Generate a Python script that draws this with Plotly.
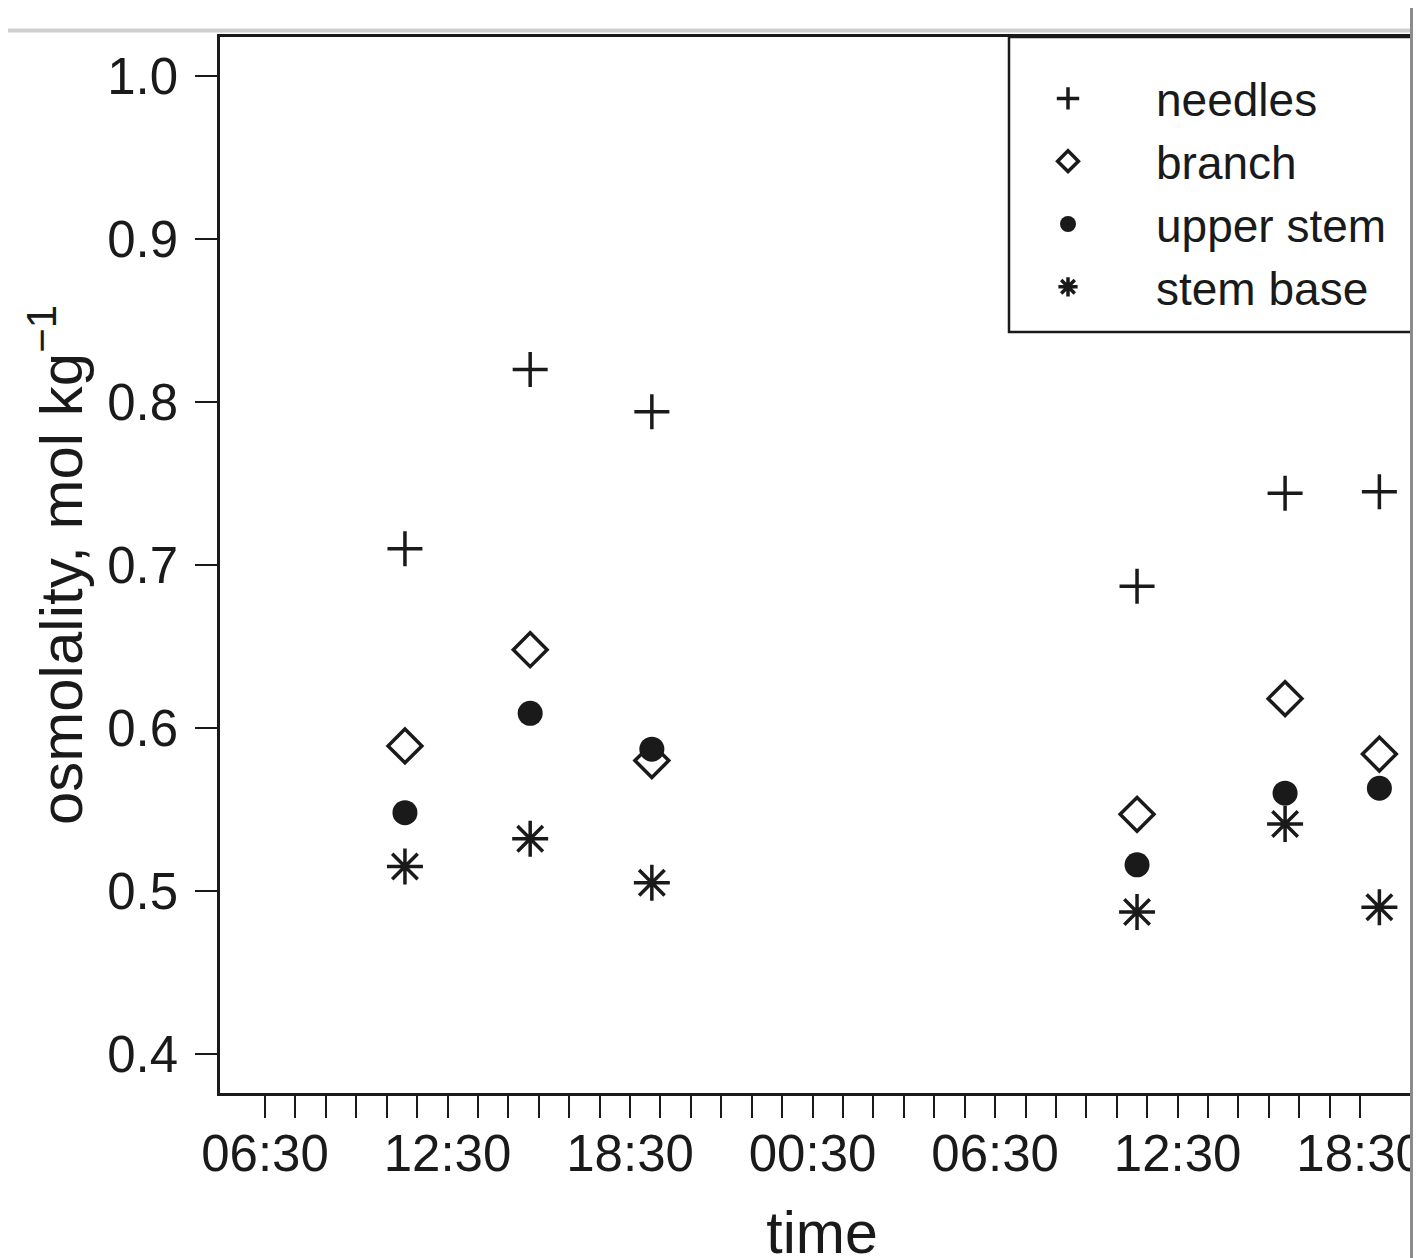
import plotly.graph_objects as go

# ---- data ----
sample_day = [1, 1, 1, 2, 2, 2]
sample_time = ["11:06", "15:13", "19:13", "11:10", "16:02", "19:08"]

needles = [0.710, 0.820, 0.794, 0.687, 0.744, 0.745]
branch = [0.589, 0.648, 0.580, 0.547, 0.618, 0.584]
upper_stem = [0.548, 0.609, 0.587, 0.516, 0.560, 0.563]
stem_base = [0.515, 0.532, 0.505, 0.487, 0.541, 0.490]

tick_labels = ["06:30", "12:30", "18:30", "00:30", "06:30", "12:30", "18:30"]
y_ticks = [0.4, 0.5, 0.6, 0.7, 0.8, 0.9, 1.0]


def to_hours(day, hhmm):
    h, m = hhmm.split(":")
    return (day - 1) * 24 + int(h) + int(m) / 60.0


x_hours = [to_hours(d, t) for d, t in zip(sample_day, sample_time)]

# labelled ticks every 6 h from 06:30 (day 1) to 18:30 (day 2); minor ticks hourly
major_vals = [6.5 + 6 * i for i in range(len(tick_labels))]
minor_vals = [6.5 + i for i in range(37) if i % 6 != 0]

W, H = 1427, 1258
OFF = 8  # page body margin
ML, MT = 220 - OFF, 37 - OFF
PLOT_R, PLOT_B = 1424 - OFF, 1093 - OFF
MR, MB = W - PLOT_R, H - PLOT_B
PW, PH = PLOT_R - ML, PLOT_B - MT

FONT = "Liberation Sans, Arial, Helvetica, sans-serif"
INK = "#1a1a1a"

fig = go.Figure()

series = [
    ("needles", needles, "cross-thin-open", 25, 3.5),
    ("branch", branch, "diamond-open", 26, 3.5),
    ("upper stem", upper_stem, "circle", 25, 0),
    ("stem base", stem_base, "asterisk-open", 30, 3.5),
]
for name, vals, sym, size, lw in series:
    fig.add_trace(go.Scatter(
        x=x_hours, y=vals, mode="markers", name=name,
        marker=dict(symbol=sym, size=size, color=INK,
                    line=dict(color=INK, width=lw)),
        cliponaxis=False,
    ))


# helpers: page pixel -> paper coords
def px_x(p):
    return (p - OFF - ML) / PW


def px_y(p):
    return (PLOT_B - (p - OFF)) / PH


shapes = [
    # legend box
    dict(type="rect", xref="paper", yref="paper",
         x0=px_x(1009), x1=px_x(1450), y0=px_y(332), y1=px_y(37),
         line=dict(color=INK, width=2.5), fillcolor="rgba(0,0,0,0)", layer="above"),
    # crop cover at right
    dict(type="rect", xref="paper", yref="paper",
         x0=px_x(1412.5), x1=px_x(1450), y0=px_y(1280), y1=px_y(0),
         line=dict(width=0), fillcolor="white", layer="above"),
    # screenshot frame lines
    dict(type="line", xref="paper", yref="paper",
         x0=px_x(8), x1=px_x(1411), y0=px_y(30.5), y1=px_y(30.5),
         line=dict(color="#cfcfcf", width=4), layer="above"),
    dict(type="line", xref="paper", yref="paper",
         x0=px_x(1411.5), x1=px_x(1411.5), y0=px_y(8), y1=px_y(1270),
         line=dict(color="#8c8c8c", width=3), layer="above"),
]

fig.update_layout(
    width=W, height=H,
    margin=dict(l=ML, r=MR, t=MT, b=MB, autoexpand=False),
    paper_bgcolor="white", plot_bgcolor="white",
    font=dict(family=FONT, color=INK),
    showlegend=True,
    legend=dict(
        x=px_x(980), y=px_y(62), xanchor="left", yanchor="top",
        bgcolor="rgba(0,0,0,0)", borderwidth=0,
        font=dict(size=46, family=FONT, color=INK),
        itemwidth=166, tracegroupgap=0,
    ),
    shapes=shapes,
    xaxis=dict(
        range=[5.02, 44.6], showgrid=False, zeroline=False,
        tickmode="array", tickvals=major_vals, ticktext=tick_labels,
        ticks="outside", ticklen=22, tickwidth=2, tickcolor=INK,
        minor=dict(tickmode="array", tickvals=minor_vals, ticks="outside",
                   ticklen=22, tickwidth=2, tickcolor=INK, showgrid=False),
        showline=True, mirror=True, linecolor=INK, linewidth=2.5,
        tickfont=dict(size=51, family=FONT, color=INK),
        ticklabelstandoff=-8,
        title=dict(text="time", font=dict(size=59, family=FONT, color=INK), standoff=34),
        automargin=False,
    ),
    yaxis=dict(
        range=[0.376, 1.024], showgrid=False, zeroline=False,
        tickmode="array", tickvals=y_ticks, ticktext=[f"{v:.1f}" for v in y_ticks],
        ticks="outside", ticklen=22, tickwidth=2, tickcolor=INK,
        showline=True, mirror=True, linecolor=INK, linewidth=2.5,
        tickfont=dict(size=51, family=FONT, color=INK),
        ticklabelstandoff=7,
        title=dict(text="osmolality, mol kg<sup>−1</sup>",
                   font=dict(size=60, family=FONT, color=INK), standoff=6),
        automargin=False,
    ),
)

fig.write_html("out.html")
